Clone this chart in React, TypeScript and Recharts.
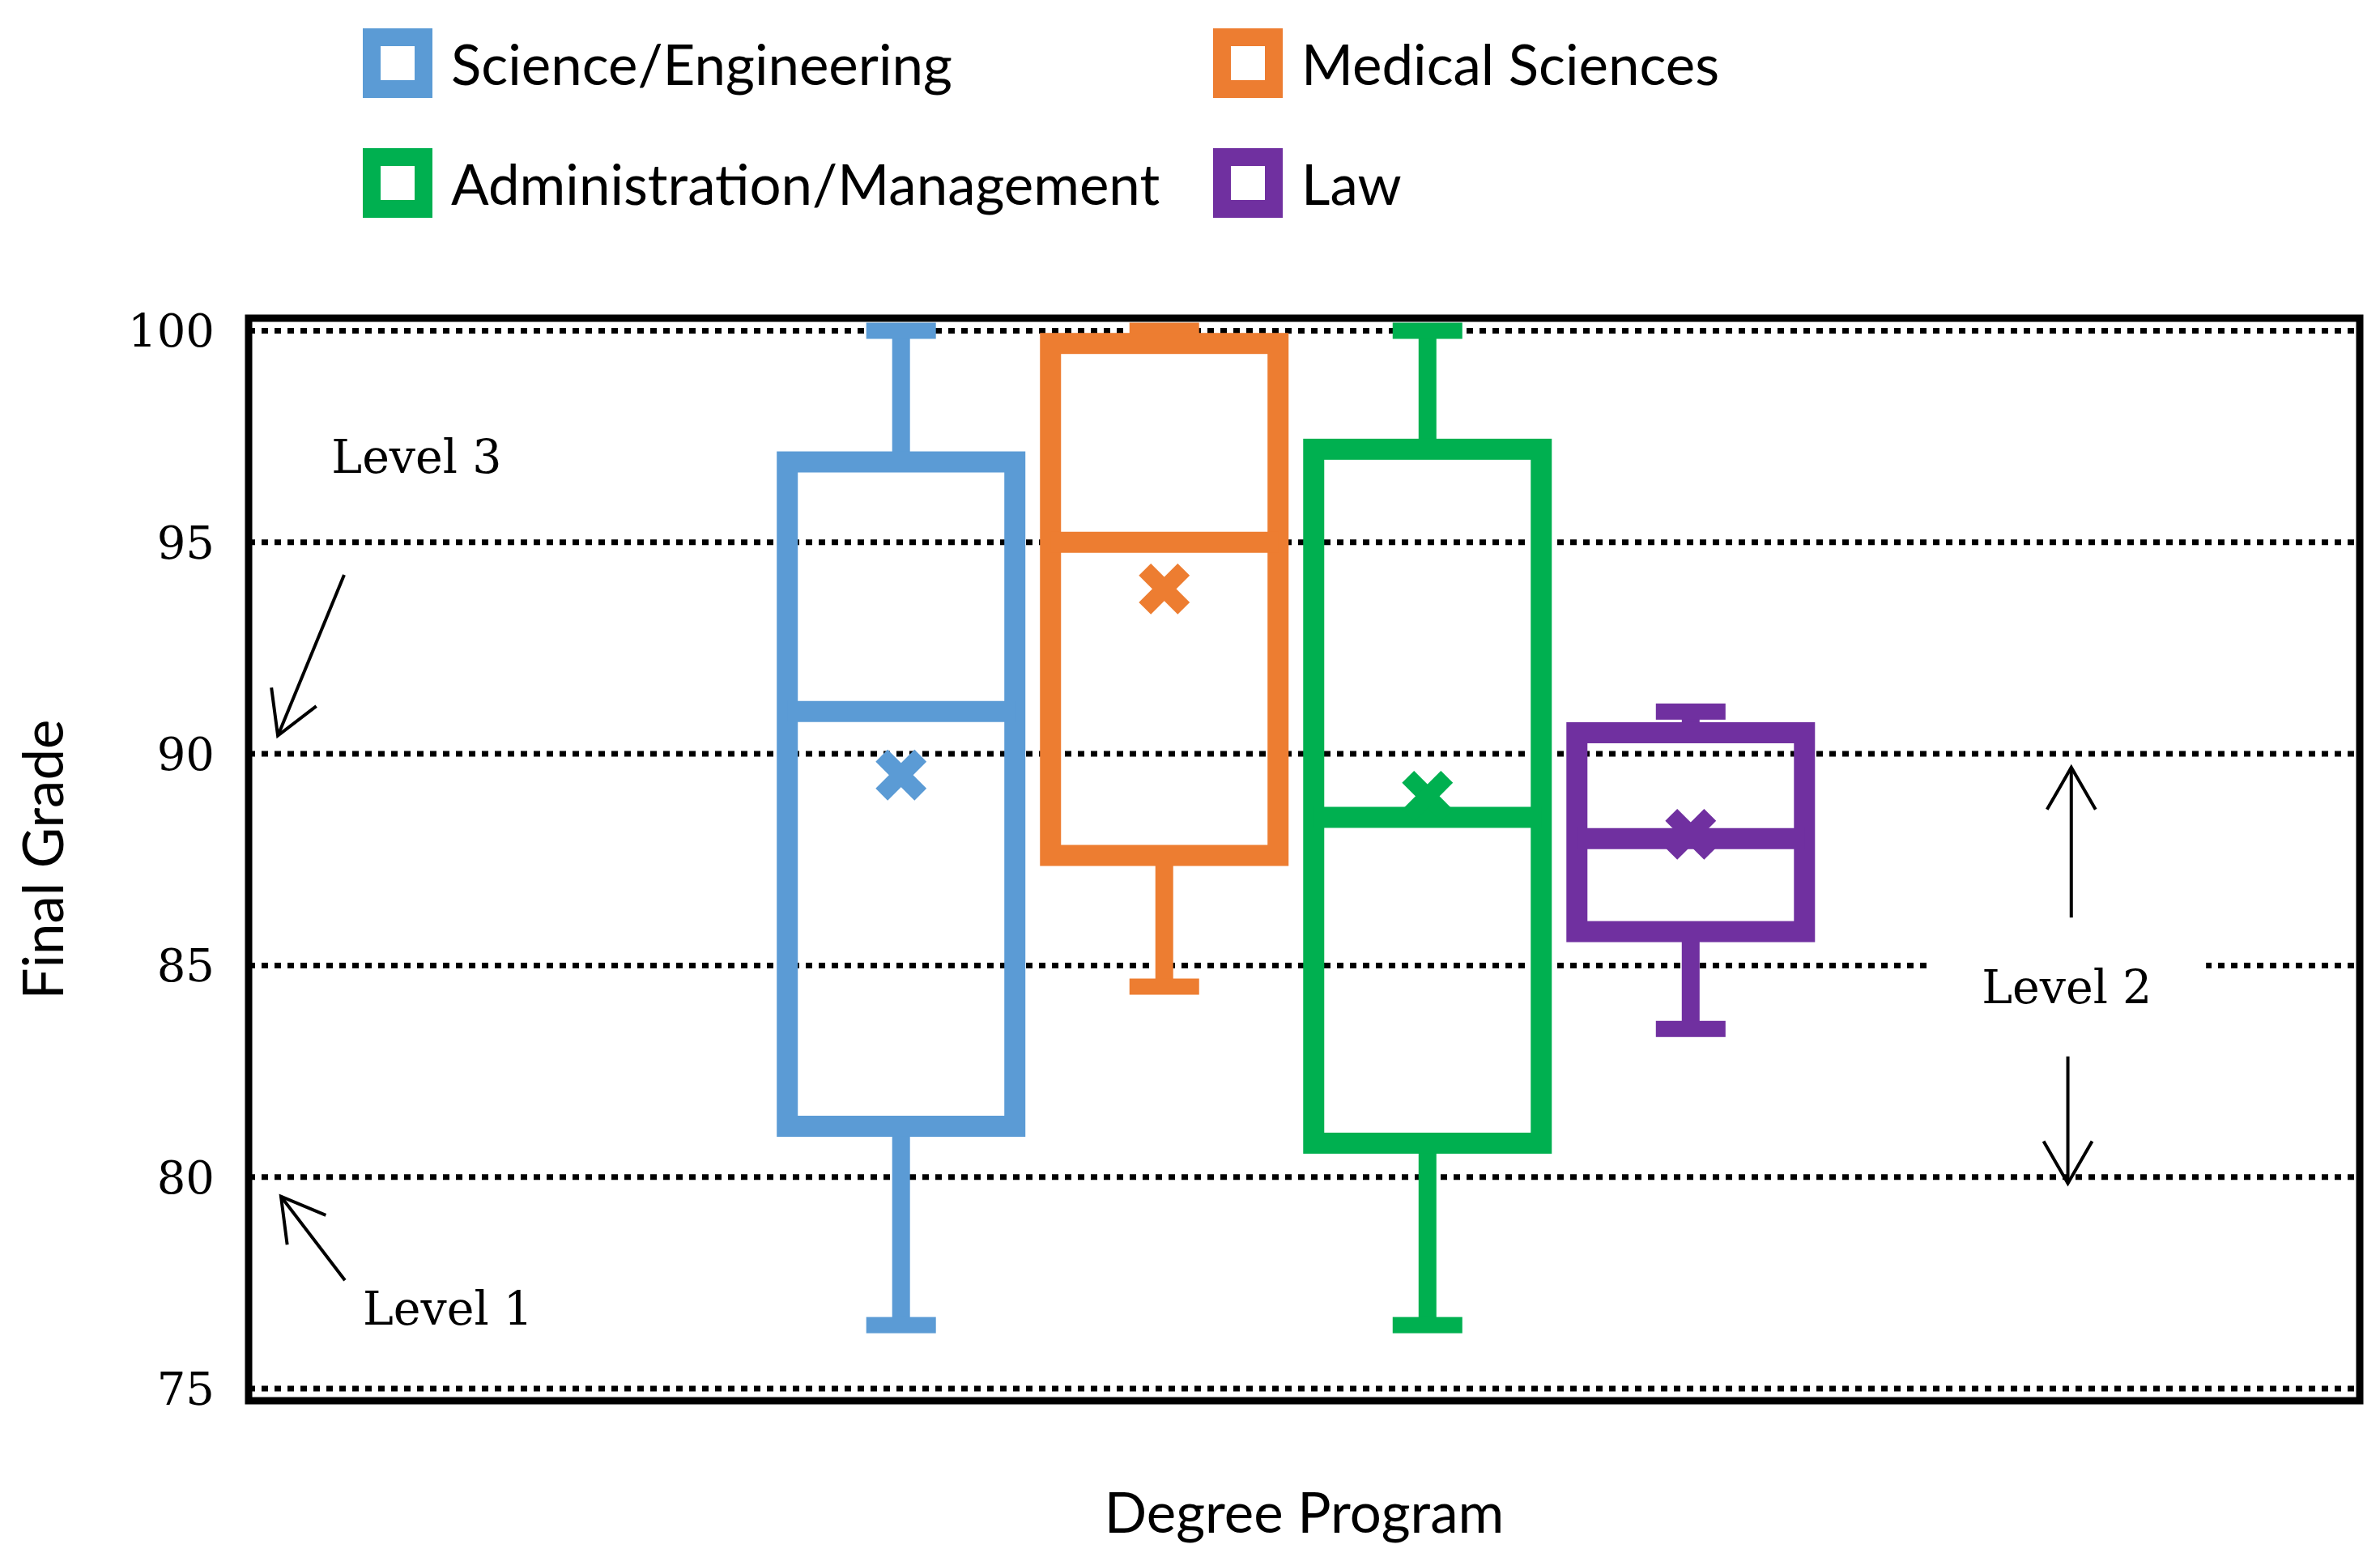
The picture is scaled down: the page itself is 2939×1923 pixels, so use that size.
import React from 'react';
import {
  ComposedChart,
  Bar,
  XAxis,
  YAxis,
  CartesianGrid,
  ReferenceLine,
  ReferenceArea,
  ReferenceDot,
} from 'recharts';

const programs = ['Science/Engineering', 'Medical Sciences', 'Administration/Management', 'Law'];
const colors = ['#5B9BD5', '#ED7D31', '#00B050', '#7030A0'];
const slots = [1, 2, 3, 4];
const mins = [76.5, 84.5, 76.5, 83.5];
const q1s = [81.2, 87.6, 80.8, 85.8];
const medians = [91.0, 95.0, 88.5, 88.0];
const q3s = [96.9, 99.7, 97.2, 90.5];
const maxs = [100, 100, 100, 91.0];
const means = [89.5, 93.9, 89.0, 88.1];
const yTicks = [75, 80, 85, 90, 95, 100];
const xDomain = [-1.479, 6.542];
const yDomain = [74.713, 100.297];

// annotations, in axis units
const levelNames = ['Level 3', 'Level 1', 'Level 2'];
const levelX = [-0.841, -0.722, 5.429];
const levelY = [97.02, 76.89, 84.49];
const arrowFrom = [[-1.116, 94.23], [-1.113, 77.56], [5.446, 86.13], [5.433, 82.85]];
const arrowTo = [[-1.368, 90.43], [-1.356, 79.54], [5.446, 89.68], [5.433, 79.85]];

const rows = programs.map((p, i) => ({ program: p, slot: slots[i], box: [q1s[i], q3s[i]] }));

const sans = 'Lato, "Open Sans", sans-serif';
const serif = '"DejaVu Serif", serif';

// box + whiskers + mean marker, drawn from the range bar [q1, q3]
const BoxShape = (props: any) => {
  const { x, y, width, height, index: i } = props;
  const color = colors[i];
  const ppu = height / (q3s[i] - q1s[i]);
  const toY = (v: number) => y + (q3s[i] - v) * ppu;
  const cx = x + width / 2;
  const bw = 26;
  const my = toY(means[i]);
  const m = 24;
  return (
    <g>
      <line x1={cx} x2={cx} y1={toY(q3s[i])} y2={toY(maxs[i])} stroke={color} strokeWidth={22} />
      <line x1={cx} x2={cx} y1={toY(q1s[i])} y2={toY(mins[i])} stroke={color} strokeWidth={22} />
      <rect x={cx - 43} y={toY(maxs[i]) - 10} width={86} height={20} fill={color} />
      <rect x={cx - 43} y={toY(mins[i]) - 10} width={86} height={20} fill={color} />
      <rect x={x + bw / 2} y={y} width={width - bw} height={height} fill="none" stroke={color} strokeWidth={bw} />
      <line x1={x + bw / 2} x2={x + width - bw / 2} y1={toY(medians[i])} y2={toY(medians[i])} stroke={color} strokeWidth={bw} />
      <line x1={cx - m} y1={my - m} x2={cx + m} y2={my + m} stroke={color} strokeWidth={21} />
      <line x1={cx - m} y1={my + m} x2={cx + m} y2={my - m} stroke={color} strokeWidth={21} />
    </g>
  );
};

const Arrow = (p: any) => {
  const { x1, y1, x2, y2 } = p;
  const a = Math.atan2(y1 - y2, x1 - x2);
  const len = 60;
  const spread = Math.PI / 6;
  const w1 = [x2 + len * Math.cos(a + spread), y2 + len * Math.sin(a + spread)];
  const w2 = [x2 + len * Math.cos(a - spread), y2 + len * Math.sin(a - spread)];
  return (
    <g>
      <line x1={x1} y1={y1} x2={x2} y2={y2} stroke="#000" strokeWidth={4} />
      <polyline
        points={`${w1[0]},${w1[1]} ${x2},${y2} ${w2[0]},${w2[1]}`}
        fill="none"
        stroke="#000"
        strokeWidth={4}
      />
    </g>
  );
};

export default function App() {
  return (
    <div style={{ position: 'absolute', left: 0, top: 0, width: 2939, height: 1923, background: '#fff' }}>
      {/* legend, 2 x 2 */}
      {programs.map((p, i) => (
        <div
          key={p}
          style={{
            position: 'absolute',
            left: 448 + (i % 2) * 1050,
            top: 35 + Math.floor(i / 2) * 148,
            height: 86,
            display: 'flex',
            alignItems: 'center',
            fontFamily: sans,
            fontSize: 69,
            color: '#000',
            whiteSpace: 'nowrap',
          }}
        >
          <div
            style={{
              width: 42,
              height: 42,
              border: `22px solid ${colors[i]}`,
              background: '#fff',
              marginRight: 23,
            }}
          />
          <span>{p}</span>
        </div>
      ))}

      <div style={{ position: 'absolute', left: 0, top: 0 }}>
        <ComposedChart
          width={2939}
          height={1923}
          data={rows}
          margin={{ top: 393, right: 25, bottom: 0, left: 0 }}
          barSize={307}
        >
          <CartesianGrid
            vertical={false}
            horizontalValues={yTicks}
            stroke="#000"
            strokeDasharray="8 8"
            strokeWidth={7}
          />
          <XAxis
            dataKey="slot"
            type="number"
            domain={xDomain}
            allowDataOverflow
            tick={false}
            axisLine={false}
            tickLine={false}
            height={193}
            label={{
              value: 'Degree Program',
              position: 'insideBottom',
              offset: 30,
              fill: '#000',
              fontSize: 69,
              fontFamily: sans,
            }}
          />
          <YAxis
            type="number"
            domain={yDomain}
            ticks={yTicks}
            allowDataOverflow
            width={307}
            axisLine={false}
            tickLine={false}
            tickSize={0}
            tickMargin={42}
            tick={{ fill: '#000', fontSize: 56, fontFamily: serif }}
            label={{
              value: 'Final Grade',
              angle: -90,
              position: 'insideLeft',
              offset: 54,
              fill: '#000',
              fontSize: 69,
              fontFamily: sans,
              style: { textAnchor: 'middle' },
            }}
          />

          <Bar dataKey="box" shape={BoxShape} isAnimationActive={false} />

          {/* white patch behind "Level 2" */}
          <ReferenceArea
            x1={4.906}
            x2={5.958}
            y1={82.92}
            y2={86.17}
            fill="#fff"
            fillOpacity={1}
            stroke="none"
          />

          {arrowFrom.map((from, i) => (
            <ReferenceLine
              key={`arrow${i}`}
              segment={[
                { x: from[0], y: from[1] },
                { x: arrowTo[i][0], y: arrowTo[i][1] },
              ]}
              shape={Arrow}
            />
          ))}

          {levelNames.map((name, i) => (
            <ReferenceDot
              key={name}
              x={levelX[i]}
              y={levelY[i]}
              r={1}
              fill="none"
              stroke="none"
              label={{ value: name, position: 'center', fill: '#000', fontSize: 57, fontFamily: serif }}
            />
          ))}

          {/* plot frame */}
          <ReferenceArea
            x1={xDomain[0]}
            x2={xDomain[1]}
            y1={yDomain[0]}
            y2={yDomain[1]}
            fill="none"
            stroke="#000"
            strokeWidth={9}
            ifOverflow="visible"
          />
        </ComposedChart>
      </div>
    </div>
  );
}
